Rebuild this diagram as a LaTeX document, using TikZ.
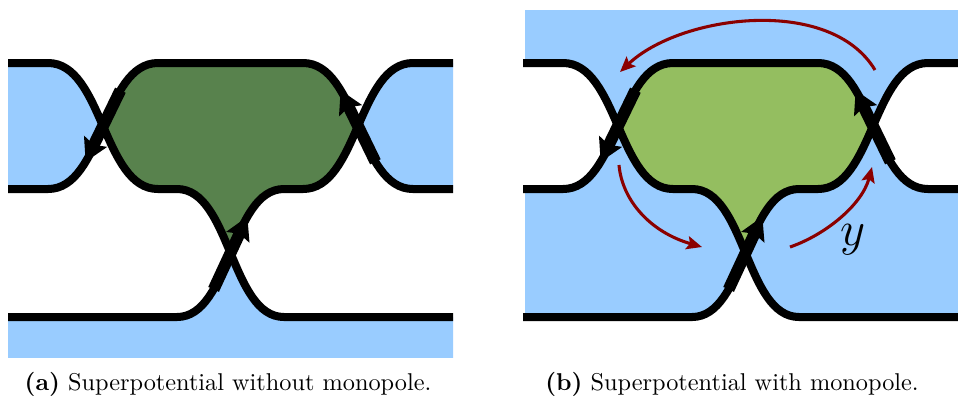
\documentclass[tikz,border=0pt]{standalone}
\usetikzlibrary{arrows.meta}
\definecolor{skyb}{RGB}{153,204,255}
\definecolor{dgreen}{RGB}{88,130,77}
\definecolor{lgreen}{RGB}{148,190,96}
\definecolor{dred}{RGB}{139,0,0}
\tikzset{
  strand/.style={line width=3.4pt, line cap=butt, line join=round},
  orient/.style={line width=5pt, -{Stealth[length=9.5pt,width=10.5pt,inset=1.5pt]}},
  flow/.style={dred, line width=1.3pt, -{Stealth[length=6.5pt,width=5.6pt,inset=1.2pt]}},
  capt/.style={anchor=base, font=\fontsize{10.3}{12}\selectfont, inner sep=0pt}
}
\newcommand\strA{(8,63) -- (48,63) .. controls (103,63) and (103,189) .. (158,189) -- (177,189) .. controls (230.5,189) and (230.5,317) .. (284,317) -- (453,317)}
\newcommand\strB{(8,189) -- (48,189) .. controls (103,189) and (103,63) .. (158,63) -- (303,63) .. controls (358,63) and (358,189) .. (413,189) -- (453,189)}
\newcommand\strC{(453,63) -- (413,63) .. controls (358,63) and (358,189) .. (303,189) -- (284,189) .. controls (230.5,189) and (230.5,317) .. (177,317) -- (8,317)}
\newcommand\abvA{\strA -- (453,-30) -- (8,-30) -- cycle}
\newcommand\blwA{\strA -- (453,420) -- (8,420) -- cycle}
\newcommand\abvB{\strB -- (453,-30) -- (8,-30) -- cycle}
\newcommand\blwB{\strB -- (453,420) -- (8,420) -- cycle}
\newcommand\abvC{\strC -- (8,-30) -- (453,-30) -- cycle}
\newcommand\blwC{\strC -- (8,420) -- (453,420) -- cycle}
\newcommand\orientarrows{%
  \coordinate (l1) at (120.4,90.2); \coordinate (l2) at (85.6,161.8);
  \coordinate (r1) at (375.4,161.8); \coordinate (r2) at (340.6,90.2);
  \coordinate (b1) at (213.6,289.4); \coordinate (b2) at (247.4,216.6);
  \draw[orient] (l1) -- (l2);
  \draw[orient] (r1) -- (r2);
  \draw[orient] (b1) -- (b2);
}
\begin{document}
\begin{tikzpicture}[x=0.424pt,y=-0.424pt]
\clip (0,0) rectangle (958,396);
\fill[white] (0,0) rectangle (958,396);
% ---------- panel (a)
\begin{scope}
  \begin{scope}\clip \abvA; \clip \abvC; \fill[dgreen] \blwB; \end{scope}
  \begin{scope}\clip \blwA; \fill[skyb] \abvB; \end{scope}
  \begin{scope}\clip \blwC; \fill[skyb] \abvB; \end{scope}
  \begin{scope}\clip \blwA; \clip (8,0) rectangle (453,357); \fill[skyb] \blwC; \end{scope}
  \draw[strand] \strA;
  \draw[strand] \strB;
  \draw[strand] \strC;
  \orientarrows
\end{scope}
% ---------- panel (b)
\begin{scope}[shift={(515,0)}]
  \fill[skyb] (10,10) rectangle (460,317);
  \begin{scope}\clip \blwA; \fill[white] \abvB; \end{scope}
  \begin{scope}\clip \blwC; \fill[white] \abvB; \end{scope}
  \begin{scope}\clip \blwA; \clip (0,0) rectangle (470,340); \fill[white] \blwC; \end{scope}
  \begin{scope}\clip \abvA; \clip \abvC; \fill[lgreen] \blwB; \end{scope}
  \draw[strand] \strA;
  \draw[strand] \strB;
  \draw[strand] \strC;
  \orientarrows
\end{scope}
% red flow arrows
\coordinate (f1s) at (875,70);  \coordinate (f1e) at (620,72);
\coordinate (f2s) at (619,165); \coordinate (f2e) at (702,247);
\coordinate (f3s) at (790,247); \coordinate (f3e) at (872,167);
\draw[flow] (f1s) .. controls (830,-5) and (680,15) .. (f1e);
\draw[flow] (f2s) .. controls (622,200) and (650,232) .. (f2e);
\draw[flow] (f3s) .. controls (825,235) and (862,205) .. (f3e);
\node[font=\huge] (ylab) at (853,240) {$y$};
% captions
\node[capt] (capa) at (228,390) {\textbf{(a)} Superpotential without monopole.};
\node[capt] (capb) at (732,390) {\textbf{(b)} Superpotential with monopole.};
\end{tikzpicture}
\end{document}
